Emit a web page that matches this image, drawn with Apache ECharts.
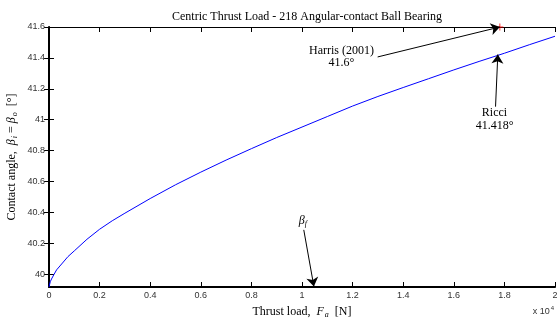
<!DOCTYPE html>
<html><head><meta charset="utf-8">
<script src="https://cdn.jsdelivr.net/npm/echarts@6/dist/echarts.min.js"></script>
<style>html,body{margin:0;padding:0;background:#fff}#c{width:557px;height:320px}</style>
</head><body><div id="c"></div>
<script>
// Thrust load (x 10^4 N)
const thrustLoad = [0, 0.005, 0.01, 0.02, 0.03, 0.05, 0.075, 0.1, 0.15, 0.2, 0.25, 0.3, 0.4, 0.5, 0.6, 0.7, 0.8, 0.9, 1.0, 1.1, 1.2, 1.3, 1.4, 1.5, 1.6, 1.7, 1.8, 1.9, 2.0];
// Contact angle (deg)
const contactAngle = [39.916, 39.95, 39.968, 39.998, 40.027, 40.065, 40.113, 40.15, 40.225, 40.29, 40.345, 40.394, 40.489, 40.578, 40.66, 40.738, 40.812, 40.884, 40.952, 41.02, 41.088, 41.15, 41.208, 41.265, 41.322, 41.377, 41.43, 41.486, 41.54];
const xTicks = [0, 0.2, 0.4, 0.6, 0.8, 1, 1.2, 1.4, 1.6, 1.8, 2];
const yTicks = [40, 40.2, 40.4, 40.6, 40.8, 41, 41.2, 41.4, 41.6];
const yMin = 39.916, yMax = 41.6;
const harrisPoint = [1.782, 41.6];
const ricciPoint = [1.774, 41.418];
const betaFPoint = [1.047, 39.919];

const serif = '"Liberation Serif","DejaVu Serif",serif';
const sans = '"Liberation Sans",Arial,sans-serif';

const chart = echarts.init(document.getElementById('c'), null, {renderer: 'canvas'});
const lineData = thrustLoad.map((x, i) => [x, contactAngle[i]]);

const arrowStyle = {color: '#000', width: 1, type: 'solid'};

chart.setOption({
  animation: false,
  backgroundColor: '#fff',
  title: {
    text: 'Centric Thrust Load - 218 Angular-contact Ball Bearing',
    left: 302, top: 6, textAlign: 'center',
    textStyle: {fontFamily: serif, fontSize: 12, fontWeight: 'normal', color: '#000'}
  },
  grid: {left: 49, right: 2, top: 27, bottom: 33, containLabel: false, outerBoundsMode: 'none'},
  xAxis: [{
    type: 'value', min: 0, max: 2, interval: 0.2,
    position: 'bottom',
    axisLine: {lineStyle: {color: '#000', width: 2}},
    axisTick: {inside: true, length: 5, customValues: xTicks, lineStyle: {color: '#000', width: 1}},
    axisLabel: {fontFamily: sans, fontSize: 9, color: '#333', margin: 4, customValues: xTicks,
      formatter: v => String(+(+v).toFixed(1))},
    splitLine: {show: false},
    name: '{n|Thrust load,  }{i|F}{s|a}{n|  [N]}',
    nameLocation: 'middle', nameGap: 18, nameMoveOverlap: false,
    nameTextStyle: {rich: {
      n: {fontFamily: serif, fontSize: 12, color: '#000'},
      i: {fontFamily: serif, fontSize: 12, fontStyle: 'italic', color: '#000'},
      s: {fontFamily: serif, fontSize: 8, fontStyle: 'italic', color: '#000', padding: [6, 0, 0, 1]}
    }}
  }, {
    type: 'value', min: 0, max: 2, interval: 0.2,
    position: 'top',
    axisLine: {lineStyle: {color: '#000', width: 1}},
    axisTick: {inside: true, length: 5, customValues: xTicks, lineStyle: {color: '#000', width: 1}},
    axisLabel: {show: false}, splitLine: {show: false}
  }],
  yAxis: [{
    type: 'value', min: yMin, max: yMax,
    position: 'left',
    axisLine: {show: true, lineStyle: {color: '#000', width: 2}},
    axisTick: {show: true, inside: true, length: 5, customValues: yTicks, lineStyle: {color: '#000', width: 1}},
    axisLabel: {fontFamily: sans, fontSize: 9, color: '#333', margin: 4, customValues: yTicks,
      formatter: v => String(+(+v).toFixed(1))},
    splitLine: {show: false},
    name: '{n|Contact angle,  }{i|β}{s|i}{n| = }{i|β}{s|o}{n|  [°]}',
    nameLocation: 'middle', nameGap: 30, nameMoveOverlap: false,
    nameTextStyle: {rich: {
      n: {fontFamily: serif, fontSize: 12, color: '#000'},
      i: {fontFamily: serif, fontSize: 12, fontStyle: 'italic', color: '#000'},
      s: {fontFamily: serif, fontSize: 8, fontStyle: 'italic', color: '#000', padding: [6, 0, 0, 1]}
    }}
  }, {
    type: 'value', min: yMin, max: yMax,
    position: 'right',
    axisLine: {show: true, lineStyle: {color: '#000', width: 1}},
    axisTick: {show: true, inside: true, length: 5, customValues: yTicks, lineStyle: {color: '#000', width: 1}},
    axisLabel: {show: false}, splitLine: {show: false}
  }],
  graphic: [{
    type: 'text', right: 3, bottom: 4,
    style: {
      text: '{a|x 10}{b|4}',
      rich: {
        a: {fontFamily: sans, fontSize: 9, fill: '#333'},
        b: {fontFamily: sans, fontSize: 6, fill: '#333', padding: [0, 0, 7, 1]}
      }
    }
  }],
  series: [{
    type: 'line', xAxisIndex: 0, yAxisIndex: 0,
    data: lineData, smooth: false, showSymbol: false,
    lineStyle: {color: '#0000ff', width: 1},
    markLine: {
      silent: true, symbol: ['none', 'arrow'], symbolSize: 9,
      label: {show: false}, lineStyle: arrowStyle,
      data: [
        [{coord: [1.299, 41.406]}, {coord: harrisPoint}],
        [{coord: [1.765, 41.084]}, {coord: [ricciPoint[0], ricciPoint[1] + 0.004]}],
        [{coord: [1.007, 40.286]}, {coord: betaFPoint}]
      ]
    },
    markPoint: {
      silent: true, symbol: 'circle', symbolSize: 0,
      data: [
        {coord: [1.156, 41.405], label: {show: true, position: 'inside',
          formatter: 'Harris (2001)\n41.6°',
          fontFamily: serif, fontSize: 12, color: '#000', lineHeight: 12, align: 'center'}},
        {coord: [1.761, 41.0], label: {show: true, position: 'inside',
          formatter: 'Ricci\n41.418°',
          fontFamily: serif, fontSize: 12, color: '#000', lineHeight: 13, align: 'center'}},
        {coord: [1.003, 40.345], label: {show: true, position: 'inside',
          formatter: '{i|β}{s|f}',
          rich: {
            i: {fontFamily: serif, fontSize: 12, fontStyle: 'italic', color: '#000'},
            s: {fontFamily: serif, fontSize: 8, fontStyle: 'italic', color: '#000', padding: [7, 0, 0, 0]}
          }}}
      ]
    }
  }, {
    type: 'scatter', xAxisIndex: 0, yAxisIndex: 0,
    data: [harrisPoint], clip: false,
    symbol: 'path://M0,-1L0,1M-1,0L1,0', symbolSize: 7,
    itemStyle: {color: 'none', borderColor: '#ff0000', borderWidth: 1}
  }]
});
</script></body></html>
